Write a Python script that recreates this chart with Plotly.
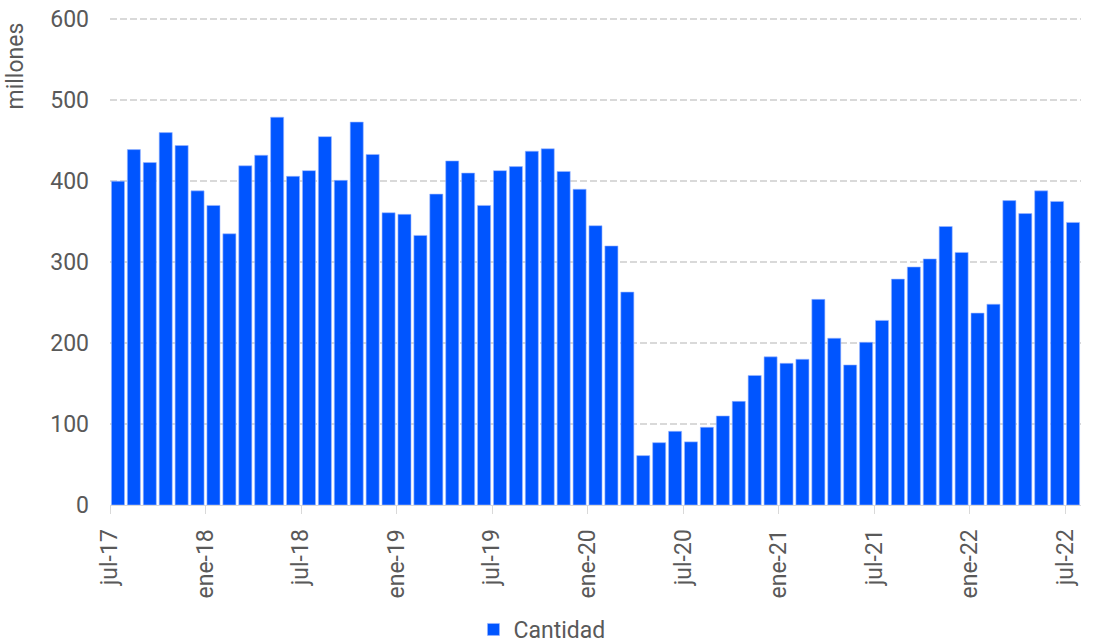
import plotly.graph_objects as go

months = ["jul-17","ago-17","sep-17","oct-17","nov-17","dic-17",
          "ene-18","feb-18","mar-18","abr-18","may-18","jun-18",
          "jul-18","ago-18","sep-18","oct-18","nov-18","dic-18",
          "ene-19","feb-19","mar-19","abr-19","may-19","jun-19",
          "jul-19","ago-19","sep-19","oct-19","nov-19","dic-19",
          "ene-20","feb-20","mar-20","abr-20","may-20","jun-20",
          "jul-20","ago-20","sep-20","oct-20","nov-20","dic-20",
          "ene-21","feb-21","mar-21","abr-21","may-21","jun-21",
          "jul-21","ago-21","sep-21","oct-21","nov-21","dic-21",
          "ene-22","feb-22","mar-22","abr-22","may-22","jun-22",
          "jul-22"]

cantidad = [400, 439, 423, 460, 444, 388,
            370, 335, 419, 432, 479, 406,
            413, 455, 401, 473, 433, 361,
            359, 333, 384, 425, 410, 370,
            413, 418, 437, 440, 412, 390,
            345, 320, 263, 61, 77, 91,
            78, 96, 110, 128, 160, 183,
            175, 180, 254, 206, 173, 201,
            228, 279, 294, 304, 344, 312,
            237, 248, 376, 360, 388, 375,
            349]

tick_labels = ["jul-17","ene-18","jul-18","ene-19","jul-19","ene-20",
               "jul-20","ene-21","jul-21","ene-22","jul-22"]

x_idx = list(range(len(months)))
tick_pos = [months.index(t) - 0.5 for t in tick_labels]

fig = go.Figure()
fig.add_trace(go.Bar(
    x=x_idx, y=cantidad, name="Cantidad",
    marker=dict(color="#0055FF", line=dict(color="#9DB8FF", width=0.6)),
    width=0.82, showlegend=True,
))

font_color = "#595959"
FS = 23
fig.update_layout(
    width=1096, height=643,
    margin=dict(l=110, r=15, t=16, b=138, autoexpand=False),
    paper_bgcolor="white", plot_bgcolor="white",
    font=dict(family="Roboto, Arial, sans-serif", size=FS, color=font_color),
    showlegend=True,
    legend=dict(orientation="h", xref="container", yref="container",
                x=0.4945, xanchor="center", y=0.021, yanchor="middle",
                font=dict(size=FS, color=font_color)),
)
fig.update_xaxes(
    range=[-0.5, len(months) - 0.5],
    tickmode="array", tickvals=tick_pos, ticktext=tick_labels,
    tickangle=-90, ticks="outside", ticklen=8, tickcolor="#d9d9d9",
    showline=True, linecolor="#d9d9d9", linewidth=1,
    showgrid=False, zeroline=False, automargin=False,
    ticklabelstandoff=6,
    tickfont=dict(size=FS, color=font_color),
)
fig.update_yaxes(
    range=[0, 604], tickvals=[0, 100, 200, 300, 400, 500, 600],
    showgrid=True, gridcolor="#d9d9d9", griddash="7px,3px", gridwidth=1.6,
    zeroline=False, showline=False, ticks="", automargin=False,
    ticklabelstandoff=20,
    tickfont=dict(size=FS, color=font_color),
)
fig.add_annotation(
    text="millones", textangle=-90, showarrow=False,
    xref="paper", yref="paper", x=(15 - 110) / 971, y=(505 - 21) / 489,
    xanchor="center", yanchor="top",
    font=dict(size=FS, color=font_color),
)

fig.write_html("out.html",
               config={"displayModeBar": False},
               post_script="document.body.style.margin='0';document.body.style.overflow='hidden';")
